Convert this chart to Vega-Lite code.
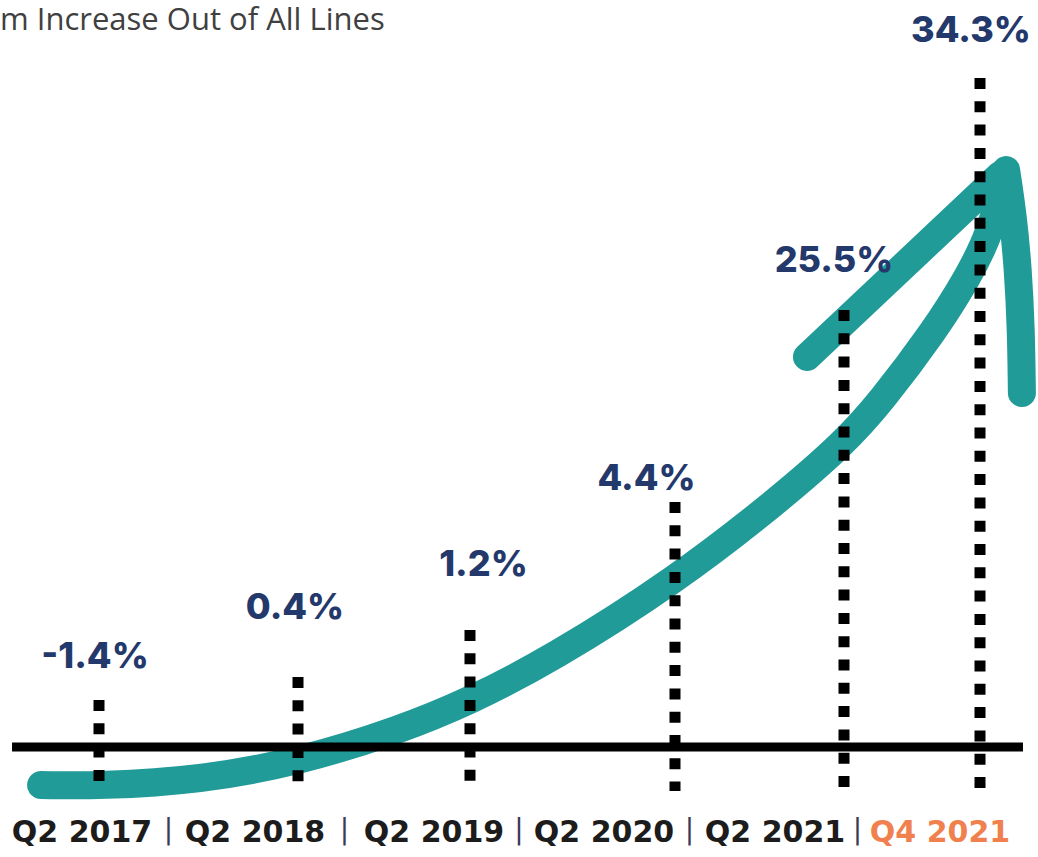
{
  "$schema": "https://vega.github.io/schema/vega-lite/v6.json",
  "width": 1038,
  "height": 857,
  "autosize": {"type": "none"},
  "padding": 0,
  "background": "#ffffff",
  "title": {
    "text": "m Increase Out of All Lines",
    "anchor": "start",
    "frame": "group",
    "font": "Open Sans",
    "fontSize": 31,
    "fontWeight": "normal",
    "color": "#404040",
    "baseline": "alphabetic",
    "offset": 0,
    "dx": 0,
    "dy": 61
  },
  "config": {"view": {"stroke": null}},
  "datasets": {
    "periods": [
      {"period": "Q2 2017", "t": 2017.25, "value": -1.4, "label": "-1.4%"},
      {"period": "Q2 2018", "t": 2018.25, "value": 0.4, "label": "0.4%"},
      {"period": "Q2 2019", "t": 2019.25, "value": 1.2, "label": "1.2%"},
      {"period": "Q2 2020", "t": 2020.25, "value": 4.4, "label": "4.4%"},
      {"period": "Q2 2021", "t": 2021.25, "value": 25.5, "label": "25.5%"},
      {"period": "Q4 2021", "t": 2021.75, "value": 34.3, "label": "34.3%"}
    ],
    "separators": [
      {"t": 2017.75}, {"t": 2018.75}, {"t": 2019.75}, {"t": 2020.75}, {"t": 2021.5}
    ],
    "arrow": [
      {"part": "shaft", "t": 2016.959, "v": -3.8},
      {"part": "shaft", "t": 2017.255, "v": -3.9},
      {"part": "shaft", "t": 2017.758, "v": -3.3},
      {"part": "shaft", "t": 2018.25, "v": -1.5},
      {"part": "shaft", "t": 2018.843, "v": 1.7},
      {"part": "shaft", "t": 2019.25, "v": 4.6},
      {"part": "shaft", "t": 2019.64, "v": 8.7},
      {"part": "shaft", "t": 2020.25, "v": 16.6},
      {"part": "shaft", "t": 2020.871, "v": 24.8},
      {"part": "shaft", "t": 2021.25, "v": 30.4},
      {"part": "shaft", "t": 2021.382, "v": 34.4},
      {"part": "shaft", "t": 2021.585, "v": 41.7},
      {"part": "shaft", "t": 2021.706, "v": 47.0},
      {"part": "shaft", "t": 2021.787, "v": 51.3},
      {"part": "shaft", "t": 2021.846, "v": 57.5},
      {"part": "left barb", "t": 2021.031, "v": 39.0},
      {"part": "left barb", "t": 2021.824, "v": 57.2},
      {"part": "right barb", "t": 2021.846, "v": 57.7},
      {"part": "right barb", "t": 2021.871, "v": 53.2},
      {"part": "right barb", "t": 2021.89, "v": 47.7},
      {"part": "right barb", "t": 2021.901, "v": 41.7},
      {"part": "right barb", "t": 2021.904, "v": 35.4}
    ]
  },
  "layer": [
    {
      "layer": [
        {
          "data": {"name": "arrow"},
          "mark": {"type": "line", "color": "#209b98", "strokeWidth": 28, "strokeCap": "round", "strokeJoin": "round", "interpolate": "basis"},
          "encoding": {
            "x": {"field": "t", "type": "quantitative", "axis": null,
                  "scale": {"domain": [2017.25, 2018.25, 2019.25, 2020.25, 2021.25, 2021.75], "range": [99, 298, 470, 675, 844, 980], "zero": false, "nice": false}},
            "y": {"field": "v", "type": "quantitative", "axis": null,
                  "scale": {"domain": [-11, 74.7], "zero": false, "nice": false}},
            "detail": {"field": "part", "type": "nominal"}
          }
        },
        {
          "data": {"values": [{}]},
          "mark": {"type": "rule", "color": "#000000", "strokeWidth": 9},
          "encoding": {
            "x": {"datum": 2016.813, "type": "quantitative"},
            "x2": {"datum": 2021.908},
            "y": {"datum": 0, "type": "quantitative"}
          }
        }
      ]
    },
    {
      "data": {"name": "periods"},
      "mark": {"type": "rule", "color": "#000000", "strokeWidth": 11, "strokeDash": [11, 12.3]},
      "encoding": {
        "x": {"field": "t", "type": "quantitative", "axis": null,
              "scale": {"domain": [2017.25, 2018.25, 2019.25, 2020.25, 2021.25, 2021.75], "range": [99, 298, 470, 675, 844, 980], "zero": false, "nice": false}},
        "y": {"field": "value", "type": "quantitative", "axis": null,
              "scale": {"domain": [-3, -1.4, 0.4, 1.2, 4.4, 25.5, 34.3], "range": [791, 700, 677, 630, 502, 310, 78], "zero": false, "nice": false}},
        "y2": {"datum": -3}
      }
    },
    {
      "data": {"name": "periods"},
      "mark": {"type": "text", "font": "Inter", "fontSize": 36, "fontWeight": 800, "color": "#23386b", "baseline": "alphabetic", "align": "center"},
      "encoding": {
        "x": {"field": "t", "type": "quantitative", "axis": null,
              "scale": {"domain": [2017.25, 2018.25, 2019.25, 2020.25, 2021.25, 2021.75], "range": [95, 295, 483.5, 646.5, 834, 971], "zero": false, "nice": false}},
        "y": {"field": "value", "type": "quantitative", "axis": null,
              "scale": {"domain": [-1.4, 0.4, 1.2, 4.4, 25.5, 34.3], "range": [668, 619, 576, 490, 272, 42], "zero": false, "nice": false}},
        "text": {"field": "label"}
      }
    },
    {
      "layer": [
        {
          "data": {"name": "periods"},
          "mark": {"type": "text", "font": "DejaVu Sans", "fontSize": 30, "fontWeight": "bold", "baseline": "alphabetic", "align": "center"},
          "encoding": {
            "x": {"field": "t", "type": "quantitative", "axis": null,
                  "scale": {"domain": [2017.25, 2018.25, 2019.25, 2020.25, 2021.25, 2021.75], "range": [82, 255, 434, 604, 775, 940], "zero": false, "nice": false}},
            "y": {"datum": -9.5, "type": "quantitative", "axis": null,
                  "scale": {"domain": [-11, 74.7], "zero": false, "nice": false}},
            "text": {"field": "period"},
            "color": {"condition": {"test": "datum.period === 'Q4 2021'", "value": "#f0814f"}, "value": "#1c1c1c"}
          }
        },
        {
          "data": {"name": "separators"},
          "mark": {"type": "text", "font": "DejaVu Sans", "fontSize": 28, "color": "#3a3a5a", "baseline": "alphabetic", "align": "center"},
          "encoding": {
            "x": {"field": "t", "type": "quantitative"},
            "y": {"datum": -9.2, "type": "quantitative"},
            "text": {"value": "|"}
          }
        }
      ]
    }
  ],
  "resolve": {"scale": {"x": "independent", "y": "independent"}}
}
